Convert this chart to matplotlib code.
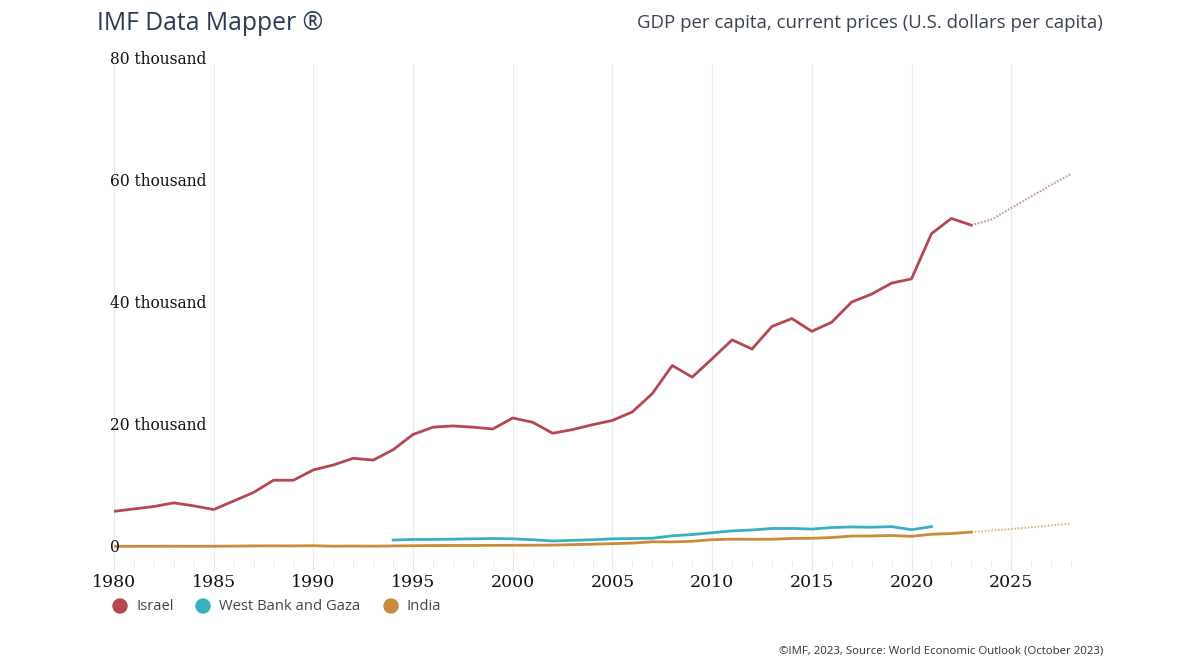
import numpy as np
import matplotlib.pyplot as plt
from matplotlib.patches import Ellipse
from matplotlib.ticker import MultipleLocator

# GDP per capita, current prices (thousand USD)
years_isr = list(range(1980, 2024))
israel = [6.0, 6.4, 6.8, 7.4, 6.9, 6.3, 7.7, 9.1, 11.1, 11.1, 12.8, 13.6, 14.7, 14.4,
          16.1, 18.6, 19.8, 20.0, 19.8, 19.5, 21.3, 20.6, 18.8, 19.4, 20.2, 20.9,
          22.3, 25.3, 29.9, 28.0, 31.0, 34.1, 32.6, 36.3, 37.6, 35.5, 37.0, 40.3,
          41.6, 43.4, 44.1, 51.5, 54.0, 52.9]
years_isr_proj = list(range(2023, 2029))
israel_proj = [52.9, 53.8, 55.7, 57.6, 59.5, 61.3]

years_wbg = list(range(1994, 2022))
wbg = [1.3, 1.4, 1.4, 1.45, 1.5, 1.55, 1.5, 1.35, 1.15, 1.25, 1.35, 1.5, 1.55, 1.6,
       2.0, 2.2, 2.5, 2.8, 2.95, 3.2, 3.2, 3.1, 3.35, 3.45, 3.4, 3.5, 3.0, 3.5]

years_ind = list(range(1980, 2024))
india = [0.27, 0.28, 0.28, 0.29, 0.28, 0.29, 0.31, 0.34, 0.35, 0.34, 0.37, 0.30, 0.32,
         0.30, 0.34, 0.37, 0.40, 0.41, 0.41, 0.44, 0.44, 0.45, 0.47, 0.55, 0.62, 0.71,
         0.80, 1.02, 0.99, 1.10, 1.36, 1.45, 1.43, 1.44, 1.56, 1.59, 1.71, 1.96, 1.97,
         2.05, 1.91, 2.25, 2.37, 2.61]
years_ind_proj = list(range(2023, 2029))
india_proj = [2.61, 2.85, 3.1, 3.4, 3.7, 4.0]

series_names = ['Israel', 'West Bank and Gaza', 'India']
colors = ['#b5474f', '#3aafc0', '#c98a3c']
ytick_vals = [0, 20, 40, 60, 80]
ytick_labels = ['0', '20 thousand', '40 thousand', '60 thousand', '80 thousand']

fig = plt.figure(figsize=(12, 6.67), dpi=100)
ax = fig.add_axes([0.095, 0.1604, 0.7975, 0.7436])

lw = 2.0
ax.plot(years_isr, israel, color=colors[0], lw=lw, solid_joinstyle='round', zorder=3)
ax.plot(years_isr_proj, israel_proj, color='#a8686e', lw=1.5, ls=(0, (0.8, 0.8)), alpha=0.7, zorder=3)
ax.plot(years_wbg, wbg, color=colors[1], lw=lw, zorder=3)
ax.plot(years_ind, india, color=colors[2], lw=lw, zorder=3)
ax.plot(years_ind_proj, india_proj, color=colors[2], lw=1.5, ls=(0, (0.8, 0.8)), alpha=0.6, zorder=3)

ax.set_xlim(1980, 2028)
ax.set_ylim(-1.97, 79.3)
ax.xaxis.set_major_locator(MultipleLocator(5))
ax.xaxis.set_minor_locator(MultipleLocator(1))
ax.set_yticks([])
ax.grid(axis='x', which='major', color='#ececec', lw=0.8)
ax.tick_params(axis='x', which='major', length=8, color='#e4e4e4', pad=2,
               labelsize=12.5, labelcolor='#111111')
ax.tick_params(axis='x', which='minor', length=4, color='#e4e4e4')
for lab in ax.get_xticklabels():
    lab.set_family('DejaVu Serif')
for s in ax.spines.values():
    s.set_visible(False)

# y labels sit over the plot, left aligned
for v, t in zip(ytick_vals, ytick_labels):
    ax.text(-0.004, v, t, transform=ax.get_yaxis_transform(), ha='left', va='center',
            fontsize=11.2, family='DejaVu Serif', color='#111111', clip_on=False, zorder=4)

fig.text(97 / 1200, 1 - 24 / 667, 'IMF Data Mapper ®', fontsize=17.8, family='Open Sans',
         color='#2b3a57', ha='left', va='center')
fig.text(1103 / 1200, 1 - 23 / 667, 'GDP per capita, current prices (U.S. dollars per capita)',
         fontsize=13.4, family='Open Sans', color='#3a4150', ha='right', va='center')
fig.text(1103 / 1200, 1 - 651 / 667, '©IMF, 2023, Source: World Economic Outlook (October 2023)',
         fontsize=8.2, family='Open Sans', color='#333333', ha='right', va='center')

# legend
leg_x = [120, 203, 391]
for x, name, c in zip(leg_x, series_names, colors):
    fig.add_artist(Ellipse((x / 1200, 1 - 606 / 667), 14 / 1200, 14 / 667,
                           transform=fig.transFigure, color=c))
    fig.text((x + 16) / 1200, 1 - 606 / 667, name, fontsize=10.6, family='Open Sans',
             color='#444444', ha='left', va='center')

fig.savefig('out.png', dpi=100)
